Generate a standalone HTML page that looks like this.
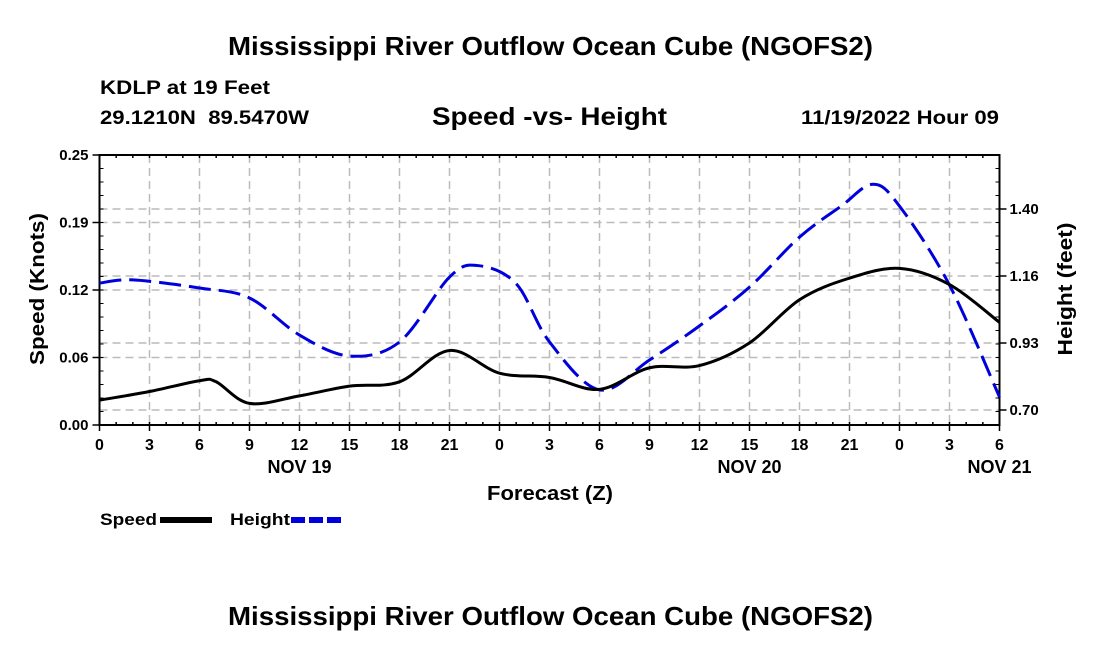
<!DOCTYPE html>
<html><head><meta charset="utf-8">
<style>
body{margin:0;background:#fff;}
svg text{font-family:"Liberation Sans",sans-serif;font-weight:bold;fill:#000;}
</style></head>
<body>
<svg id="chart" width="1100" height="650" viewBox="0 0 1100 650" xmlns="http://www.w3.org/2000/svg">
<text x="228" y="55" font-size="26" textLength="645" lengthAdjust="spacingAndGlyphs">Mississippi River Outflow Ocean Cube (NGOFS2)</text>
<text x="100" y="94" font-size="19" textLength="170" lengthAdjust="spacingAndGlyphs">KDLP at 19 Feet</text>
<text x="100" y="124" font-size="19" textLength="209" lengthAdjust="spacingAndGlyphs" xml:space="preserve">29.1210N  89.5470W</text>
<text x="432" y="125" font-size="25" textLength="235" lengthAdjust="spacingAndGlyphs">Speed -vs- Height</text>
<text x="801" y="124" font-size="19" textLength="198" lengthAdjust="spacingAndGlyphs">11/19/2022 Hour 09</text>
<g id="grid"></g>
<g id="axes"></g>
<g id="series"></g>
<text transform="translate(44,289) rotate(-90)" font-size="20" text-anchor="middle" textLength="152" lengthAdjust="spacingAndGlyphs">Speed (Knots)</text>
<text transform="translate(1072,289) rotate(-90)" font-size="20" text-anchor="middle" textLength="133" lengthAdjust="spacingAndGlyphs">Height (feet)</text>
<text x="487" y="500" font-size="20" textLength="126" lengthAdjust="spacingAndGlyphs">Forecast (Z)</text>
<g>
<text x="100" y="525" font-size="17" textLength="57" lengthAdjust="spacingAndGlyphs">Speed</text>
<line x1="160" y1="520" x2="212" y2="520" stroke="#000" stroke-width="6"/>
<text x="230" y="525" font-size="17" textLength="60" lengthAdjust="spacingAndGlyphs">Height</text>
<line x1="291" y1="520" x2="343" y2="520" stroke="#0000dd" stroke-width="6" stroke-dasharray="14,4"/>
</g>
<text x="228" y="625" font-size="26" textLength="645" lengthAdjust="spacingAndGlyphs">Mississippi River Outflow Ocean Cube (NGOFS2)</text>
</svg>
<script>
const xTickLabels=["0","3","6","9","12","15","18","21","0","3","6","9","12","15","18","21","0","3","6"];
const dayLabels=["NOV 19","NOV 20","NOV 21"];
const dayHours=[12,39,54];
const leftTicks=[0,0.0625,0.125,0.1875,0.25];
const leftTickLabels=["0.00","0.06","0.12","0.19","0.25"];
const rightTicks=[0.70,0.9333,1.1667,1.40];
const rightTickLabels=["0.70","0.93","1.16","1.40"];
const speedHours=[0,3,6,7,9,12,15,18,21,24,27,30,33,36,39,42,45,48,51,54];
const speedValues=[0.023,0.031,0.041,0.040,0.020,0.027,0.036,0.040,0.069,0.048,0.044,0.033,0.053,0.055,0.076,0.116,0.136,0.145,0.130,0.095];
const heightHours=[0,2,6,9,12,15,18,21,22.7,25,27,30,33,36,39,42,44.5,46.4,48,51,54];
const heightValues=[1.142,1.153,1.125,1.09,0.961,0.888,0.937,1.163,1.203,1.14,0.937,0.77,0.874,0.993,1.128,1.302,1.41,1.486,1.41,1.135,0.745];

const X0=99.5,X1=999.5,Y0=425,Y1=155;
const xs=h=>X0+h/54*(X1-X0);
const yl=v=>Y0-v/0.25*(Y0-Y1);
const yr=v=>410-(v-0.70)/0.23333*67;
const NS="http://www.w3.org/2000/svg";
function mk(tag,attrs,parent){const e=document.createElementNS(NS,tag);for(const k in attrs)e.setAttribute(k,attrs[k]);parent.appendChild(e);return e;}
const grid=document.getElementById('grid'),axes=document.getElementById('axes'),series=document.getElementById('series');
const gs={stroke:"#bbb","stroke-width":1.5,"stroke-dasharray":"8,5"};
xTickLabels.forEach((l,i)=>{const x=xs(i*3);
 if(i>0&&i<xTickLabels.length-1){const g=mk('line',Object.assign({x1:x,x2:x,y1:Y1,y2:Y0},gs),grid);
 
 }
 const t=mk('line',{x1:x,x2:x,y1:Y0,y2:Y0+6,stroke:"#000","stroke-width":1.5},axes);
 
 
 const tx=mk('text',{x:x,y:Y0+25,"font-size":16,"text-anchor":"middle"},axes);tx.textContent=l;
 
 
});
dayLabels.forEach((l,i)=>{const t=mk('text',{x:xs(dayHours[i]),y:Y0+48,"font-size":18,"text-anchor":"middle"},axes);t.textContent=l;
 
 });
leftTicks.forEach((v,i)=>{const y=yl(v);
 if(i>0&&i<leftTicks.length-1){const g=mk('line',Object.assign({x1:X0,x2:X1,y1:y,y2:y},gs),grid);
 
 }
 const t=mk('line',{x1:X0-7,x2:X0,y1:y,y2:y,stroke:"#000","stroke-width":1.5},axes);
 
 
 const tx=mk('text',{x:X0-11,y:y+5,"font-size":15,"text-anchor":"end"},axes);tx.textContent=leftTickLabels[i];
 
 
});
for(let k=1;k<20;k++){const y=Y0-k*(Y0-Y1)/20;mk('line',{x1:X0,x2:X0+4,y1:y,y2:y,stroke:"#000","stroke-width":1},axes);mk('line',{x1:X1-4,x2:X1,y1:y,y2:y,stroke:"#000","stroke-width":1},axes);}
for(let k=1;k<54;k++){const x=xs(k);mk('line',{x1:x,x2:x,y1:Y1,y2:Y1+3,stroke:"#000","stroke-width":1.5},axes);mk('line',{x1:x,x2:x,y1:Y0,y2:Y0-3,stroke:"#000","stroke-width":1.5},axes);}
rightTicks.forEach((v,i)=>{const y=yr(v);
 const g=mk('line',Object.assign({x1:X0,x2:X1,y1:y,y2:y},gs),grid);
 
 
 const t=mk('line',{x1:X1,x2:X1+7,y1:y,y2:y,stroke:"#000","stroke-width":1.5},axes);
 
 
 const tx=mk('text',{x:X1+10,y:y+5,"font-size":15},axes);tx.textContent=rightTickLabels[i];
 
 
});
const fr=mk('rect',{x:X0,y:Y1,width:X1-X0,height:Y0-Y1,fill:"none",stroke:"#000","stroke-width":2},axes);


function smooth(pts){let d=`M${pts[0][0]},${pts[0][1]}`;
 for(let i=0;i<pts.length-1;i++){const p0=pts[Math.max(0,i-1)],p1=pts[i],p2=pts[i+1],p3=pts[Math.min(pts.length-1,i+2)];
 d+=` C${p1[0]+(p2[0]-p0[0])/6},${p1[1]+(p2[1]-p0[1])/6} ${p2[0]-(p3[0]-p1[0])/6},${p2[1]-(p3[1]-p1[1])/6} ${p2[0]},${p2[1]}`;}
 return d;}
const hp=mk('path',{d:smooth(heightHours.map((h,i)=>[xs(h),yr(heightValues[i])])),fill:"none",stroke:"#0000dd","stroke-width":3,"stroke-dasharray":"22,8"},series);


const sp=mk('path',{d:smooth(speedHours.map((h,i)=>[xs(h),yl(speedValues[i])])),fill:"none",stroke:"#000","stroke-width":3},series);


</script>
</body></html>
